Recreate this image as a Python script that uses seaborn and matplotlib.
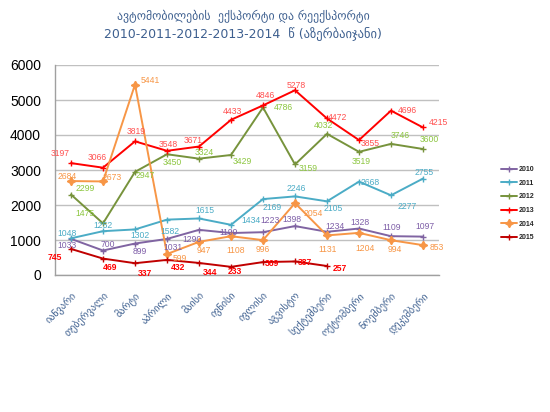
import numpy as np
import pandas as pd
import matplotlib
matplotlib.use("Agg")
import matplotlib.pyplot as plt
import seaborn as sns

months = ["იანვარი", "თებერვალი", "მარტი", "აპრილი", "მაისი", "ივნისი",
          "ივლისი", "აგვისტო", "სექტემბერი", "ოქტომბერი", "ნოემბერი", "დეკემბერი"]
years = ["2010", "2011", "2012", "2013", "2014", "2015"]

v2010 = [1033, 700, 899, 1031, 1290, 1199, 1223, 1398, 1234, 1328, 1109, 1097]
v2011 = [1048, 1252, 1302, 1582, 1615, 1434, 2169, 2246, 2105, 2668, 2277, 2755]
v2012 = [2299, 1475, 2947, 3450, 3324, 3429, 4786, 3159, 4032, 3519, 3746, 3600]
v2013 = [3197, 3066, 3819, 3548, 3671, 4433, 4846, 5278, 4472, 3855, 4696, 4215]
v2014 = [2684, 2673, 5441, 599, 947, 1108, 996, 2054, 1131, 1204, 994, 853]
v2015 = [745, 469, 337, 432, 344, 233, 369, 387, 257]

title1 = "ავტომობილების  ექსპორტი და რეექსპორტი"
title2 = "2010-2011-2012-2013-2014  წ (აზერბაიჯანი)"

# label offsets in pixels (dx right, dy down)
off2010 = [(-4, 7), (5, -6), (5, 8), (6, 9), (-7, 10), (-2, -1), (7, -12), (-3, -7),
           (8, -5), (1, -6), (1, -9), (2, -10)]
off2011 = [(-4, -5), (0, -6), (5, 6), (3, 12), (6, -8), (20, -4), (9, 8), (1, -8),
           (6, 7), (11, 1), (16, 11), (1, -6)]
off2012 = [(14, -6), (-18, -10), (10, 4), (5, 8), (5, -6), (11, 7), (20, 0), (13, 4),
           (-4, -8), (2, 10), (9, -8), (6, -9)]
off2013 = [(-11, -10), (-6, -10), (1, -10), (1, -6), (-6, -6), (1, -8), (2, -10), (1, -5),
           (10, -1), (11, 3), (16, 0), (15, -5)]
off2014 = [(-4, -5), (9, -4), (15, -4), (13, 4), (5, 9), (5, 14), (0, 9), (18, 10),
           (1, 14), (6, 16), (4, 9), (14, 2)]
off2015 = [(-16, 9), (7, 9), (10, 10), (11, 8), (11, 10), (4, 5), (9, 1), (10, 1), (13, 2)]

series = [v2010, v2011, v2012, v2013, v2014, v2015]
offsets = [off2010, off2011, off2012, off2013, off2014, off2015]
line_colors = ["#8064a2", "#4bacc6", "#77933c", "#ff0000", "#f79646", "#c00000"]
label_colors = ["#7f5fa8", "#4bacc6", "#8cc63f", "#ff5050", "#f79646", "#ff0000"]
markers = ["+", "+", "+", "+", (4, 1, 0), "+"]
msizes = [4, 4, 4, 4, 6, 4]

sns.set_style("white")
plt.rcParams["font.family"] = ["Liberation Sans", "DejaVu Sans"]

fig = plt.figure(figsize=(5.5, 4.12), dpi=100)
ax = fig.add_axes([55 / 550, 1 - 275 / 412, (439 - 55) / 550, (275 - 65) / 412])

for yr, vals, off, lc, tc, mk, ms in zip(years, series, offsets, line_colors,
                                         label_colors, markers, msizes):
    df = pd.DataFrame({"m": np.arange(len(vals)), "v": vals})
    sns.lineplot(data=df, x="m", y="v", ax=ax, color=lc, linewidth=1.4,
                 marker=mk, markersize=ms, markeredgewidth=1.0,
                 markeredgecolor=lc, label=yr)
    for i, v in enumerate(vals):
        dx, dy = off[i]
        ax.annotate(str(v), xy=(i, v), xytext=(dx, -dy), textcoords="offset pixels",
                    ha="center", va="center", fontsize=6.2, color=tc,
                    fontweight="bold" if yr == "2015" else "normal")

ax.set_xlim(-0.5, 11.5)
ax.set_ylim(0, 6000)
ax.set_yticks(np.arange(0, 6001, 1000))
ax.set_yticklabels([str(t) for t in range(0, 6001, 1000)], fontsize=10, color="black")
ax.set_xticks(np.arange(12))
ax.set_xticklabels(months, rotation=45, ha="right", rotation_mode="anchor",
                   fontsize=7.3, color="#3d5f8f", family="DejaVu Sans")
ax.set_xticks(np.arange(-0.5, 12, 1), minor=True)
ax.tick_params(axis="x", which="major", length=0, pad=11)
ax.tick_params(axis="x", which="minor", length=5, color="#a0a0a0", direction="out")
ax.tick_params(axis="y", length=4, color="#a0a0a0", direction="out", pad=6)
ax.set_xlabel("")
ax.set_ylabel("")
ax.grid(axis="y", color="#c0c0c0", linewidth=1.0)
ax.set_axisbelow(True)
for s in ["top", "right"]:
    ax.spines[s].set_visible(False)
for s in ["left", "bottom"]:
    ax.spines[s].set_color("#a0a0a0")
    ax.spines[s].set_linewidth(1.0)

handles, labels = ax.get_legend_handles_labels()
ax.get_legend().remove()
leg = fig.legend(handles, labels, loc="upper left",
                 bbox_to_anchor=(495 / 550, 1 - 160 / 412), frameon=False,
                 prop={"size": 5, "weight": "bold"}, handlelength=2.3,
                 labelspacing=0.95, handletextpad=0.2)

fig.text(243 / 550, 1 - 17 / 412, title1, ha="center", va="center",
         fontsize=8.5, color="#3d5f8f", family="DejaVu Sans")
fig.text(243 / 550, 1 - 34 / 412, title2, ha="center", va="center",
         fontsize=9, color="#3d5f8f", family="DejaVu Sans")

fig.savefig("out.png", dpi=100)
